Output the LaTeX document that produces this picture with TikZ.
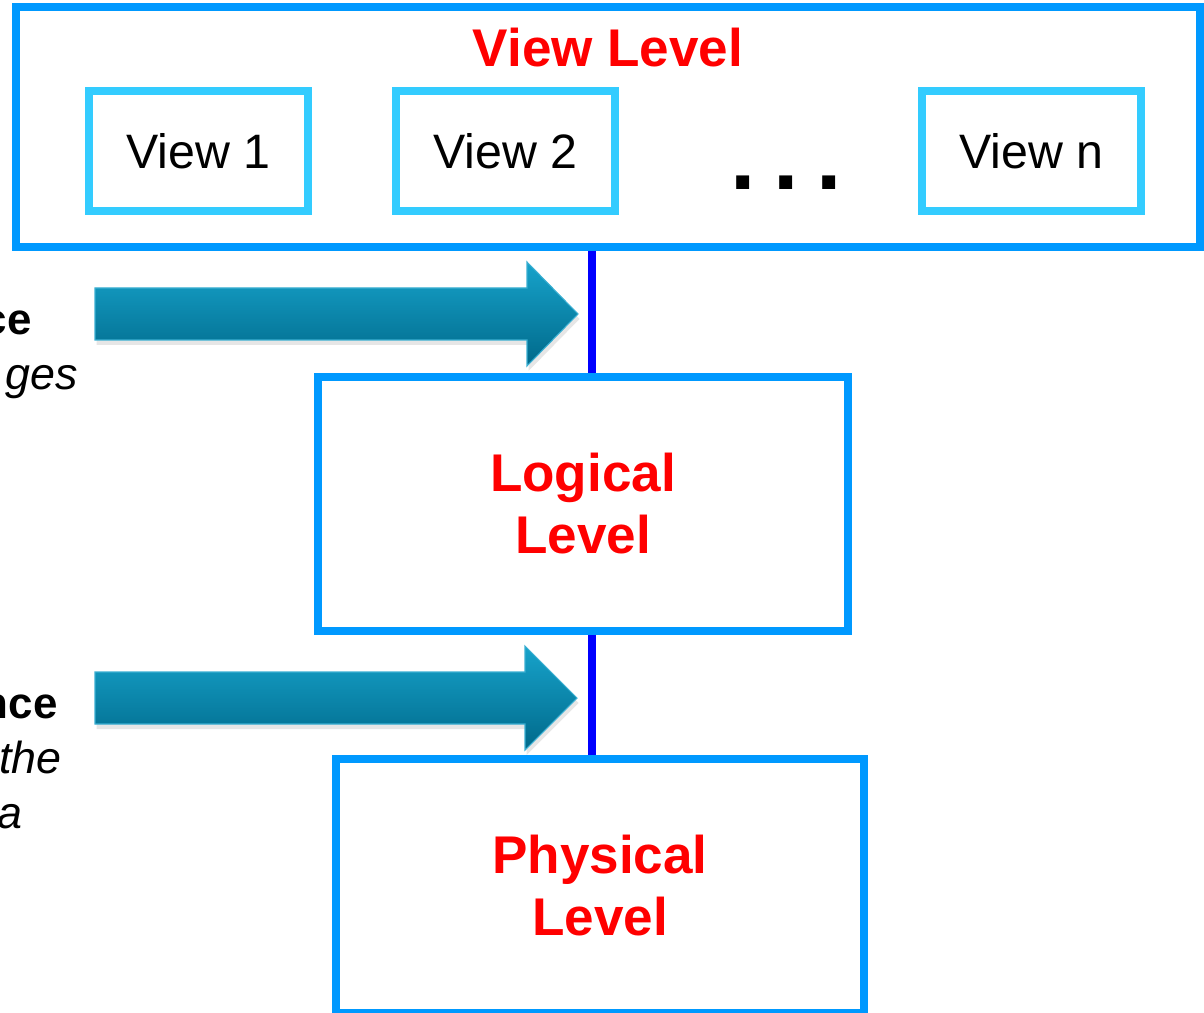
\documentclass[tikz,border=0pt]{standalone}
\usepackage{fontspec}
\setmainfont{Liberation Sans}
\usetikzlibrary{shadows}
\definecolor{levelblue}{HTML}{0099FF}
\definecolor{viewcyan}{HTML}{33CCFF}
\definecolor{linkblue}{HTML}{0000FF}
\definecolor{arrowtop}{HTML}{17A3CB}
\definecolor{arrowbot}{HTML}{00698A}
\definecolor{arrowedge}{HTML}{3AAFD2}

\begin{document}
\begin{tikzpicture}[x=0.02cm, y=-0.02cm,
	level/.style={draw=levelblue, line width=0.16cm, inner sep=0pt},
	title/.style={text=red, font=\fontsize{30.2}{35.3}\selectfont\bfseries, align=center, inner sep=0pt},
	view/.style={draw=viewcyan, line width=0.16cm, minimum width=4.38cm, minimum height=2.4cm, font=\fontsize{27.5}{33}\selectfont},
	link/.style={draw=linkblue, line width=0.15cm},
	bigarrow/.style={top color=arrowtop, bottom color=arrowbot, draw=arrowedge, line width=0.6pt, drop shadow={opacity=0.2, shadow xshift=0.03cm, shadow yshift=-0.1cm}},
	sidebold/.style={inner sep=0pt, anchor=base east, font=\fontsize{25}{29}\selectfont\bfseries},
	sideital/.style={inner sep=0pt, anchor=base east, font=\fontsize{25.5}{29}\selectfont\itshape}]
	\useasboundingbox (0,0) rectangle (1204,1013);
	\node[level, minimum width=23.68cm, minimum height=4.8cm] (view) at (608,127) {};
	\node[title, anchor=base] (viewtitle) at (608,67) {View Level};
	\node[view] (v1) at (198.5,151) {View 1};
	\node[view] (v2) at (505.5,151) {View 2};
	\node[inner sep=0pt, anchor=base, font=\fontsize{52}{52}\selectfont\bfseries] (dots) at (786.5,190) {.\hspace{10pt}.\hspace{10pt}.};
	\node[view] (vn) at (1031.5,151) {View n};
	\node[level, title, minimum width=10.6cm, minimum height=5.07cm] (logical) at (583,504) {Logical\\Level};
	\node[level, title, minimum width=10.56cm, minimum height=5.08cm] (physical) at (600,886) {Physical\\Level};
	\coordinate (axis) at (592,0);
	\path[link] (view.south -| axis) -- (logical.north -| axis);
	\path[link] (logical.south -| axis) -- (physical.north -| axis);
	\path[bigarrow] (95,288) -- (527,288) -- (527,262) -- (578,314) -- (527,366) -- (527,340) -- (95,340) -- cycle;
	\path[bigarrow] (95,672) -- (525,672) -- (525,646) -- (577,698) -- (525,750) -- (525,724) -- (95,724) -- cycle;
	\node[sidebold] (upper1) at (32,335) {ce};
	\node[sideital] (upper2) at (78,390) {ges};
	\node[sidebold] (lower1) at (58,718) {nce};
	\node[sideital] (lower2) at (62,773) {the};
	\node[sideital] (lower3) at (23,828) {a};
\end{tikzpicture}
\end{document}
